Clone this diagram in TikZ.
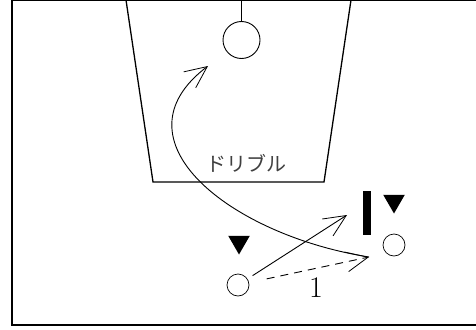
\documentclass[tikz,border=0pt]{standalone}
\usepackage{fontspec}
\newfontfamily\jpfont{Noto Sans CJK JP}
\usetikzlibrary{shapes.geometric, arrows.meta}

\begin{document}
\begin{tikzpicture}[
    x=1pt, y=-1pt,
    court/.style={line width=1.6pt},
    lane/.style={line width=1.3pt},
    player/.style={circle, draw, line width=0.7pt, minimum size=22pt, inner sep=0pt},
    defender/.style={regular polygon, regular polygon sides=3, shape border rotate=180,
        fill, minimum size=25pt, inner sep=0pt},
    barb/.style={-{Straight Barb[length=22pt, width=20pt, line width=0.8pt]}},
    move/.style={barb, line width=0.9pt},
    pass/.style={barb, line width=0.9pt, dash pattern=on 8pt off 6pt},
    dribble/.style={line width=0.9pt}
]
\useasboundingbox (0,0) rectangle (476,329);
\clip (0,0) rectangle (476,329);

% court and lane
\draw[court] (12,0) rectangle (480,325);
\draw[lane] (126,0) -- (153,182) -- (324,182) -- (351,0);

% hoop
\coordinate (post) at (241.5,0);
\node[circle, draw, line width=0.9pt, minimum size=37pt, inner sep=0pt] (ring) at (241.5,40) {};
\draw[line width=1.2pt] (ring.north) -- (post);

% players and defenders
\node[player] (pA) at (238,285) {};
\node[player] (pB) at (394,245) {};
\node[defender] (dA) at (239,242) {};
\node[defender] (dB) at (394,201) {};
\node[fill, minimum width=8pt, minimum height=44pt, inner sep=0pt] (screen) at (367,213) {};

% moves
\coordinate (cut) at (347,215);
\coordinate (recv) at (369,257);
\coordinate (shot) at (208,66);
\draw[move, shorten <=6pt] (pA) -- (cut);
\draw[pass, shorten <=18pt] (pA) -- (recv);
\draw[dribble, barb] (recv) .. controls (230,235) and (110,140) .. (shot);

% labels
\node[text=black!75, font=\jpfont\fontsize{20}{20}\selectfont] (drib) at (246,163) {ドリブル};
\node[font=\fontsize{30}{30}\selectfont] (num) at (316,288) {1};

\end{tikzpicture}
\end{document}
